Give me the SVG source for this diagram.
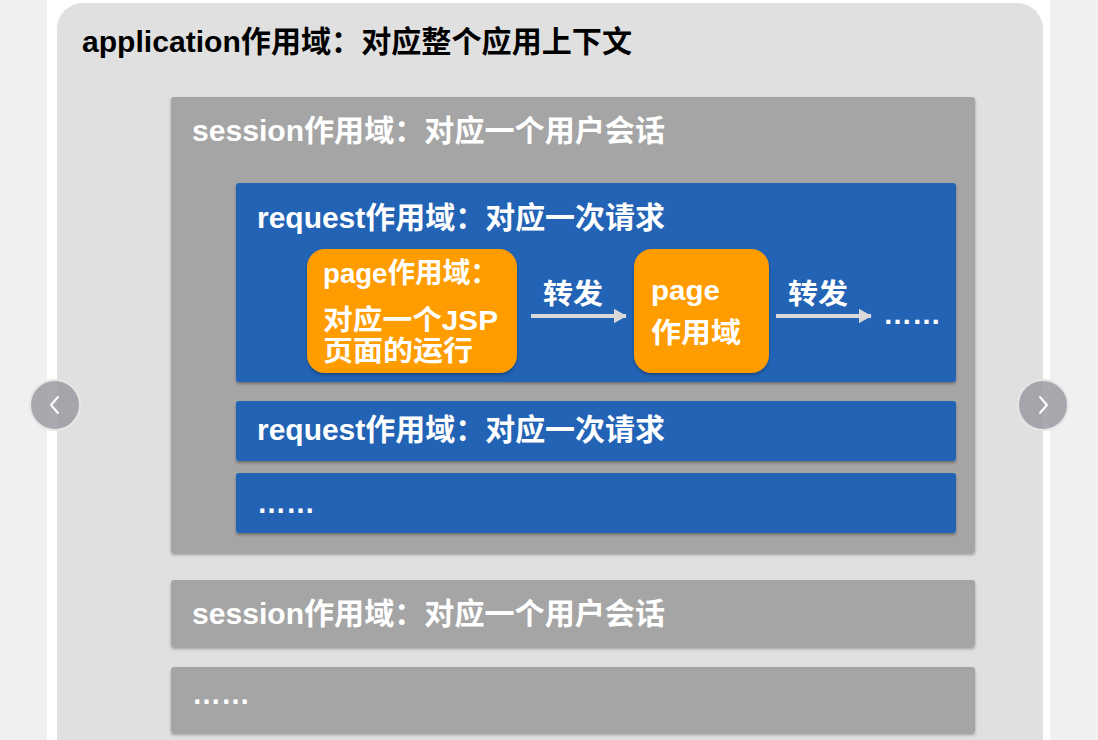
<svg xmlns="http://www.w3.org/2000/svg" width="1098" height="740" viewBox="0 0 1098 740">
<defs>
<style>
.t{font-family:"Liberation Sans","Noto Sans CJK SC",sans-serif;font-weight:bold;}
.w{fill:#ffffff;}
.sess{fill:#a5a5a5;}
.req{fill:#2163b5;}
.page{fill:#ff9c00;}
.arr{stroke:#d9d9d9;stroke-width:4;fill:none;}
.nav{fill:#9a9aa2;fill-opacity:0.85;stroke:#e6e6e6;stroke-width:2;}
.chev{stroke:#ffffff;stroke-width:2;fill:none;stroke-linecap:round;stroke-linejoin:round;}
</style>
<filter id="sh" x="-5%" y="-5%" width="110%" height="120%">
<feDropShadow dx="0" dy="2" stdDeviation="1.5" flood-color="#000" flood-opacity="0.3"/>
</filter>
<marker id="ah" markerWidth="3.2" markerHeight="3.6" refX="3" refY="1.8" orient="auto" markerUnits="strokeWidth">
<path d="M0,0 L3.2,1.8 L0,3.6 z" fill="#d9d9d9"/>
</marker>
</defs>
<rect x="0" y="0" width="1098" height="740" fill="#f0f0f0"/>
<rect x="47" y="0" width="1003" height="740" fill="#ffffff"/>
<g id="application">
<rect x="57" y="3" width="986" height="760" rx="26" fill="#e0e0e0"/>
<text class="t" x="82" y="52" font-size="30" fill="#000" textLength="550" lengthAdjust="spacingAndGlyphs">application作用域：对应整个应用上下文</text>
</g>
<g id="session1">
<rect class="sess" x="171" y="97" width="804" height="456" rx="3" filter="url(#sh)"/>
<text class="t w" x="192" y="141" font-size="30" textLength="473" lengthAdjust="spacingAndGlyphs">session作用域：对应一个用户会话</text>
</g>
<g id="request1">
<rect class="req" x="236" y="183" width="720" height="199" rx="3" filter="url(#sh)"/>
<text class="t w" x="257" y="228" font-size="30" textLength="408" lengthAdjust="spacingAndGlyphs">request作用域：对应一次请求</text>
</g>
<g id="page1">
<rect class="page" x="307" y="249" width="210" height="124" rx="18" filter="url(#sh)"/>
<text class="t w" x="323" y="283" font-size="28" textLength="175" lengthAdjust="spacingAndGlyphs">page作用域：</text>
<text class="t w" x="323" y="330" font-size="28" textLength="175" lengthAdjust="spacingAndGlyphs">对应一个JSP</text>
<text class="t w" x="323" y="361" font-size="28" textLength="150" lengthAdjust="spacingAndGlyphs">页面的运行</text>
</g>
<g id="page2">
<rect class="page" x="634" y="249" width="135" height="124" rx="18" filter="url(#sh)"/>
<text class="t w" x="651" y="300" font-size="28" textLength="69" lengthAdjust="spacingAndGlyphs">page</text>
<text class="t w" x="651" y="343" font-size="28" textLength="90" lengthAdjust="spacingAndGlyphs">作用域</text>
</g>
<g id="more1">
<text class="t w" x="883" y="324" font-size="28" textLength="58" lengthAdjust="spacingAndGlyphs">……</text>
</g>
<g id="request2">
<rect class="req" x="236" y="401" width="720" height="60" rx="3" filter="url(#sh)"/>
<text class="t w" x="257" y="440" font-size="30" textLength="408" lengthAdjust="spacingAndGlyphs">request作用域：对应一次请求</text>
</g>
<g id="request3">
<rect class="req" x="236" y="473" width="720" height="60" rx="3" filter="url(#sh)"/>
<text class="t w" x="257" y="513" font-size="30" textLength="58" lengthAdjust="spacingAndGlyphs">……</text>
</g>
<g id="session2">
<rect class="sess" x="171" y="580" width="804" height="67" rx="3" filter="url(#sh)"/>
<text class="t w" x="192" y="624" font-size="30" textLength="473" lengthAdjust="spacingAndGlyphs">session作用域：对应一个用户会话</text>
</g>
<g id="session3">
<rect class="sess" x="171" y="667" width="804" height="66" rx="3" filter="url(#sh)"/>
<text class="t w" x="192" y="704" font-size="30" textLength="58" lengthAdjust="spacingAndGlyphs">……</text>
</g>
<g id="connectors">
<line class="arr" x1="531" y1="316" x2="626" y2="316" marker-end="url(#ah)"/>
<text class="t w" x="543" y="304" font-size="28" textLength="60" lengthAdjust="spacingAndGlyphs">转发</text>
<line class="arr" x1="776" y1="316" x2="871" y2="316" marker-end="url(#ah)"/>
<text class="t w" x="788" y="304" font-size="28" textLength="60" lengthAdjust="spacingAndGlyphs">转发</text>
</g>
<g id="nav-left">
<circle class="nav" cx="55" cy="405" r="25"/>
<path class="chev" d="M58,397 L51,405 L58,413"/>
</g>
<g id="nav-right">
<circle class="nav" cx="1043" cy="405" r="25"/>
<path class="chev" d="M1040,397 L1047,405 L1040,413"/>
</g>
</svg>
